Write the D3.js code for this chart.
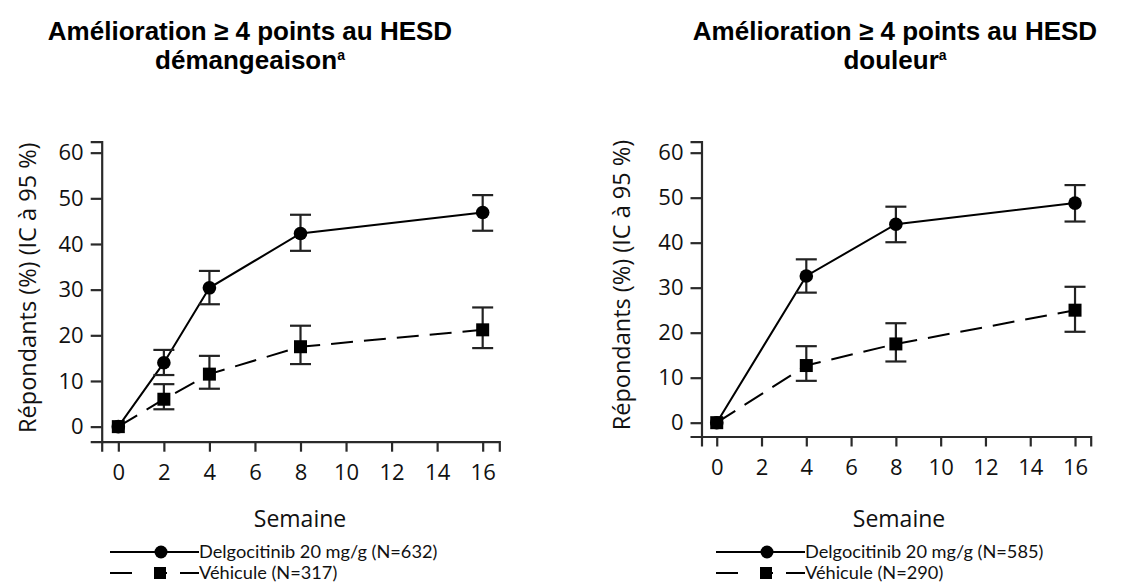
<!DOCTYPE html>
<html>
<head>
<meta charset="utf-8">
<script src="https://cdn.jsdelivr.net/npm/d3@7"></script>
<style>
  body { margin: 0; background: #fff; }
  svg { display: block; }
  .tick text { font-family: "Open Sans", sans-serif; font-size: 22px; fill: #111; }
  .axis path, .axis line { stroke: #2a2a2a; stroke-width: 2.2px; }
</style>
</head>
<body>
<div id="chart"></div>
<script>
// Panel 1 : démangeaison
const weeks1 = [0, 2, 4, 8, 16];
const delgo1 = [0, 14.0, 30.4, 42.3, 46.9];
const delgo1Lo = [null, 11.3, 26.8, 38.5, 42.9];
const delgo1Hi = [null, 16.8, 34.1, 46.4, 50.7];
const veh1 = [0, 6.0, 11.5, 17.5, 21.2];
const veh1Lo = [null, 3.8, 8.3, 13.7, 17.2];
const veh1Hi = [null, 9.3, 15.5, 22.1, 26.1];

// Panel 2 : douleur
const weeks2 = [0, 4, 8, 16];
const delgo2 = [0, 32.6, 44.1, 48.8];
const delgo2Lo = [null, 28.9, 40.1, 44.7];
const delgo2Hi = [null, 36.3, 48.0, 52.8];
const veh2 = [0, 12.7, 17.5, 25.0];
const veh2Lo = [null, 9.3, 13.6, 20.2];
const veh2Hi = [null, 17.0, 22.1, 30.2];

const xTicks = [0, 2, 4, 6, 8, 10, 12, 14, 16];
const yTicks = [0, 10, 20, 30, 40, 50, 60];
const titleLine1 = "Amélioration ≥ 4 points au HESD";
const yLabel = "Répondants (%) (IC à 95 %)";
const xLabel = "Semaine";

const svg = d3.select("#chart").append("svg")
    .attr("width", 1130)
    .attr("height", 585);

const panels = [
    {
        title2: "démangeaison", titleX: 250,
        left: 101.7, right: 499.3, top: 141.7, bottom: 441.7,
        xDom: [-0.73, 16.73], yDom: [-3.3, 62.4],
        yLabelX: 28, xLabelX: 300, legendX: 110,
        weeks: weeks1,
        delgo: delgo1, delgoLo: delgo1Lo, delgoHi: delgo1Hi,
        veh: veh1, vehLo: veh1Lo, vehHi: veh1Hi,
        nDelgo: 632, nVeh: 317
    },
    {
        title2: "douleur", titleX: 895,
        left: 701.5, right: 1090.7, top: 141.7, bottom: 436.5,
        xDom: [-0.68, 16.70], yDom: [-3.07, 62.44],
        yLabelX: 622, xLabelX: 899, legendX: 716,
        weeks: weeks2,
        delgo: delgo2, delgoLo: delgo2Lo, delgoHi: delgo2Hi,
        veh: veh2, vehLo: veh2Lo, vehHi: veh2Hi,
        nDelgo: 585, nVeh: 290
    }
];

panels.forEach(function (p) {
    const x = d3.scaleLinear().domain(p.xDom).range([p.left, p.right]);
    const y = d3.scaleLinear().domain(p.yDom).range([p.bottom, p.top]);

    // Title
    const t = svg.append("text")
        .attr("x", p.titleX)
        .attr("text-anchor", "middle")
        .style("font-family", "Liberation Sans, Arial, sans-serif")
        .style("font-weight", "bold")
        .style("font-size", "26px")
        .style("fill", "#000");
    t.append("tspan").attr("x", p.titleX).attr("y", 40).text(titleLine1);
    t.append("tspan").attr("x", p.titleX).attr("y", 69).text(p.title2);
    t.append("tspan")
        .attr("dy", -9)
        .style("font-size", "14px")
        .text("a");

    // Axes
    svg.append("g")
        .attr("class", "axis")
        .attr("transform", "translate(0," + p.bottom + ")")
        .call(d3.axisBottom(x).tickValues(xTicks).tickSizeOuter(0).tickSize(10).tickPadding(13));

    svg.append("g")
        .attr("class", "axis")
        .attr("transform", "translate(" + p.left + ",0)")
        .call(d3.axisLeft(y).tickValues(yTicks).tickSizeOuter(0).tickSize(11).tickPadding(7));

    // Axis labels
    svg.append("text")
        .attr("transform", "translate(" + p.yLabelX + "," + ((p.top + p.bottom) / 2 - 4) + ") rotate(-90)")
        .attr("text-anchor", "middle")
        .attr("dy", "0.35em")
        .style("font-family", "Open Sans, sans-serif")
        .style("font-size", "23.5px")
        .style("fill", "#111")
        .text(yLabel);

    svg.append("text")
        .attr("x", p.xLabelX)
        .attr("y", 527)
        .attr("text-anchor", "middle")
        .style("font-family", "Open Sans, sans-serif")
        .style("font-size", "23px")
        .style("fill", "#111")
        .text(xLabel);

    // Lines
    const line = d3.line()
        .x(function (d) { return x(d[0]); })
        .y(function (d) { return y(d[1]); });

    const series = [
        { vals: p.delgo, lo: p.delgoLo, hi: p.delgoHi, dash: null, shape: "circle" },
        { vals: p.veh, lo: p.vehLo, hi: p.vehHi, dash: "22,11", shape: "square" }
    ];

    series.forEach(function (s) {
        const pts = p.weeks.map(function (w, i) { return [w, s.vals[i], s.lo[i], s.hi[i]]; });

        svg.append("path")
            .datum(pts)
            .attr("d", line)
            .attr("fill", "none")
            .attr("stroke", "#000")
            .attr("stroke-width", 2)
            .attr("stroke-dasharray", s.dash);

        // Error bars
        const eb = svg.append("g")
            .attr("stroke", "#222")
            .attr("stroke-width", 2.2)
            .selectAll("g")
            .data(pts.filter(function (d) { return d[2] != null; }))
            .enter().append("g");

        eb.append("line")
            .attr("x1", function (d) { return x(d[0]); })
            .attr("x2", function (d) { return x(d[0]); })
            .attr("y1", function (d) { return y(d[2]); })
            .attr("y2", function (d) { return y(d[3]); });
        eb.append("line")
            .attr("x1", function (d) { return x(d[0]) - 10.5; })
            .attr("x2", function (d) { return x(d[0]) + 10.5; })
            .attr("y1", function (d) { return y(d[2]); })
            .attr("y2", function (d) { return y(d[2]); });
        eb.append("line")
            .attr("x1", function (d) { return x(d[0]) - 10.5; })
            .attr("x2", function (d) { return x(d[0]) + 10.5; })
            .attr("y1", function (d) { return y(d[3]); })
            .attr("y2", function (d) { return y(d[3]); });

        // Markers
        if (s.shape === "circle") {
            svg.selectAll(null)
                .data(pts)
                .enter().append("circle")
                .attr("cx", function (d) { return x(d[0]); })
                .attr("cy", function (d) { return y(d[1]); })
                .attr("r", 6.8)
                .attr("fill", "#000");
        } else {
            svg.selectAll(null)
                .data(pts)
                .enter().append("rect")
                .attr("x", function (d) { return x(d[0]) - 6.5; })
                .attr("y", function (d) { return y(d[1]) - 6.5; })
                .attr("width", 13)
                .attr("height", 13)
                .attr("fill", "#000");
        }
    });

    // Legend
    const lg = svg.append("g").attr("transform", "translate(" + p.legendX + ",0)");
    lg.append("line")
        .attr("x1", 0).attr("x2", 89).attr("y1", 552).attr("y2", 552)
        .attr("stroke", "#000").attr("stroke-width", 2);
    lg.append("circle").attr("cx", 51).attr("cy", 552).attr("r", 6.5).attr("fill", "#000");
    lg.append("line")
        .attr("x1", 0).attr("x2", 22).attr("y1", 573).attr("y2", 573)
        .attr("stroke", "#000").attr("stroke-width", 2);
    lg.append("line")
        .attr("x1", 44).attr("x2", 57).attr("y1", 573).attr("y2", 573)
        .attr("stroke", "#000").attr("stroke-width", 2);
    lg.append("rect").attr("x", 44).attr("y", 567).attr("width", 12).attr("height", 12).attr("fill", "#000");
    lg.append("line")
        .attr("x1", 70).attr("x2", 89).attr("y1", 573).attr("y2", 573)
        .attr("stroke", "#000").attr("stroke-width", 2);

    lg.append("text")
        .attr("x", 89).attr("y", 552).attr("dy", "0.35em")
        .style("font-family", "Lato, sans-serif")
        .style("font-size", "18.2px")
        .style("fill", "#111")
        .text("Delgocitinib 20 mg/g (N=" + p.nDelgo + ")");
    lg.append("text")
        .attr("x", 89).attr("y", 573).attr("dy", "0.35em")
        .style("font-family", "Lato, sans-serif")
        .style("font-size", "18.2px")
        .style("fill", "#111")
        .text("Véhicule (N=" + p.nVeh + ")");
});
</script>
</body>
</html>
